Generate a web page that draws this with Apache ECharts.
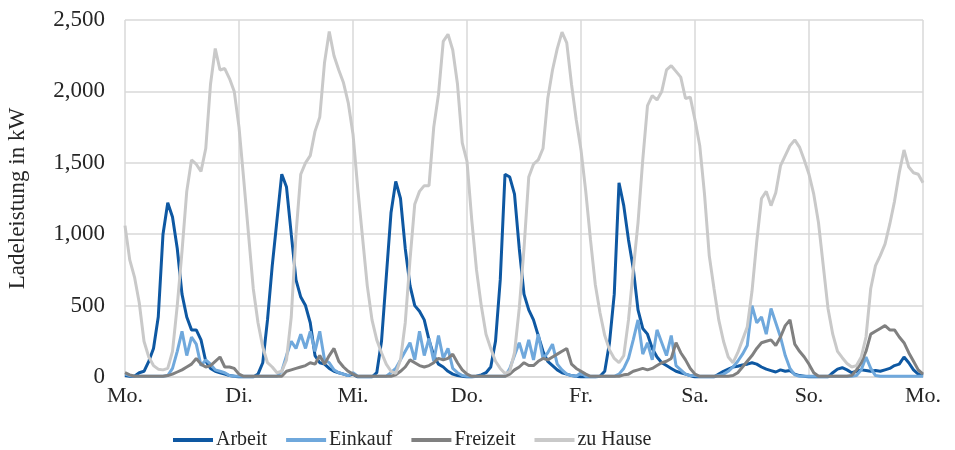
<!DOCTYPE html>
<html>
<head>
<meta charset="utf-8">
<script src="https://cdn.jsdelivr.net/npm/echarts@6/dist/echarts.min.js"></script>
<style>
html,body{margin:0;padding:0;background:#fff;}
#c{width:955px;height:450px;}
</style>
</head>
<body>
<div id="c"></div>
<script>
// Tick labels (one per day boundary, every 24 h)
const dayLabels = ['Mo.', 'Di.', 'Mi.', 'Do.', 'Fr.', 'Sa.', 'So.', 'Mo.'];
const seriesNames = ['Arbeit', 'Einkauf', 'Freizeit', 'zu Hause'];

// Hourly charging power in kW (h = 0 ... 168)
const arbeit = [
  10, 5, 5, 30, 40, 110, 200, 420, 1000, 1220, 1120, 900, 580, 420, 330, 330, 260, 110, 60, 40, 30, 20, 10, 5,
  0, 0, 0, 0, 20, 100, 400, 780, 1100, 1420, 1330, 1000, 680, 560, 500, 380, 150, 100, 90, 60, 40, 30, 20, 10,
  20, 0, 0, 0, 0, 30, 250, 700, 1150, 1370, 1250, 900, 640, 500, 460, 400, 260, 150, 90, 70, 40, 20, 10, 5,
  0, 0, 5, 15, 30, 70, 250, 680, 1420, 1400, 1280, 900, 580, 470, 400, 290, 180, 110, 80, 50, 30, 20, 10, 5,
  0, 0, 0, 0, 5, 40, 240, 580, 1360, 1200, 960, 760, 470, 340, 300, 200, 140, 100, 80, 60, 40, 30, 20, 10,
  0, 0, 0, 0, 0, 20, 40, 55, 70, 75, 85, 90, 100, 90, 70, 55, 45, 35, 50, 40, 45, 20, 10, 5,
  0, 0, 0, 0, 0, 30, 55, 65, 50, 30, 40, 50, 45, 40, 45, 40, 50, 60, 80, 90, 140, 100, 50, 20, 10
];
const einkauf = [
  20, 10, 5, 5, 5, 5, 5, 5, 5, 10, 60, 180, 320, 150, 280, 230, 80, 120, 90, 50, 40, 30, 10, 5,
  5, 5, 5, 5, 5, 5, 5, 5, 5, 40, 150, 250, 200, 300, 200, 320, 180, 320, 120, 100, 50, 30, 20, 10,
  30, 5, 5, 5, 5, 5, 5, 5, 30, 60, 120, 180, 240, 120, 320, 150, 270, 110, 290, 130, 200, 60, 30, 10,
  5, 5, 5, 5, 5, 5, 5, 5, 5, 60, 150, 240, 130, 260, 120, 300, 130, 170, 230, 90, 50, 20, 10, 5,
  30, 5, 5, 5, 5, 5, 5, 5, 20, 60, 130, 260, 400, 160, 240, 120, 330, 240, 150, 290, 80, 50, 20, 10,
  10, 5, 5, 5, 5, 10, 20, 40, 70, 110, 160, 220, 500, 380, 420, 300, 480, 380, 280, 150, 60, 15, 5, 5,
  5, 5, 5, 5, 5, 5, 5, 5, 5, 5, 10, 50, 140, 60, 10, 5, 5, 5, 5, 5, 5, 5, 5, 5, 5
];
const freizeit = [
  30, 15, 5, 5, 5, 5, 5, 5, 5, 10, 20, 35, 50, 70, 90, 130, 90, 70, 80, 110, 140, 70, 70, 60,
  20, 5, 5, 5, 5, 5, 5, 5, 5, 5, 40, 50, 60, 70, 80, 100, 90, 150, 90, 150, 200, 110, 70, 40,
  20, 5, 5, 5, 5, 5, 5, 5, 5, 15, 40, 70, 120, 100, 80, 70, 80, 100, 130, 120, 130, 160, 100, 50,
  20, 5, 5, 5, 5, 5, 5, 5, 5, 20, 50, 70, 100, 80, 80, 110, 130, 120, 140, 160, 180, 200, 90, 60,
  40, 20, 5, 5, 5, 5, 5, 5, 5, 15, 20, 40, 50, 60, 50, 60, 80, 100, 110, 130, 240, 170, 120, 60,
  20, 5, 5, 5, 5, 5, 5, 5, 10, 30, 70, 110, 150, 200, 240, 250, 260, 220, 280, 360, 400, 230, 180, 140,
  90, 30, 5, 5, 5, 5, 5, 5, 5, 10, 50, 100, 180, 300, 320, 340, 360, 330, 330, 280, 240, 170, 110, 50, 20
];
const zuHause = [
  1060, 820, 700, 520, 250, 140, 80, 55, 50, 60, 180, 500, 880, 1300, 1520, 1490, 1440, 1600, 2050, 2300, 2150, 2160, 2090, 2000,
  1750, 1380, 1000, 620, 380, 210, 100, 70, 30, 40, 120, 420, 1000, 1420, 1500, 1550, 1720, 1820, 2200, 2420, 2250, 2150, 2060, 1920,
  1700, 1320, 980, 640, 400, 260, 170, 90, 40, 25, 120, 380, 820, 1210, 1300, 1340, 1340, 1750, 1980, 2350, 2400, 2290, 2050, 1640,
  1510, 1100, 750, 500, 300, 200, 110, 60, 25, 40, 170, 480, 900, 1400, 1490, 1520, 1600, 1950, 2150, 2300, 2415, 2340, 2050, 1800,
  1590, 1300, 960, 650, 450, 290, 190, 130, 100, 150, 400, 750, 1080, 1520, 1900, 1970, 1940, 2000, 2150, 2180, 2140, 2100, 1950, 1960,
  1800, 1620, 1280, 850, 620, 400, 250, 140, 100, 170, 260, 350, 600, 950, 1250, 1300, 1200, 1290, 1480, 1550, 1620, 1660, 1610, 1520,
  1420, 1280, 1080, 780, 480, 300, 180, 135, 95, 70, 80, 140, 280, 620, 780, 850, 930, 1070, 1230, 1430, 1590, 1470, 1430, 1420, 1360
];

const colors = ['#0E58A2', '#6FA8DC', '#808080', '#C9C9C9'];
const allData = [arbeit, einkauf, freizeit, zuHause];
const font = '"Liberation Serif", "Times New Roman", serif';

const chart = echarts.init(document.getElementById('c'), null, {renderer: 'canvas'});
chart.setOption({
  animation: false,
  backgroundColor: '#ffffff',
  textStyle: {fontFamily: font, color: '#262626'},
  grid: {left: 125, right: 32, top: 20, bottom: 73, containLabel: false, outerBoundsMode: 'none'},
  legend: {
    top: 425,
    left: 168,
    itemWidth: 40,
    itemHeight: 4,
    itemGap: 19,
    icon: 'rect',
    textStyle: {fontFamily: font, fontSize: 20, color: '#262626', padding: [0, 0, 0, -2]},
    data: seriesNames
  },
  xAxis: {
    type: 'value',
    min: 0,
    max: 168,
    interval: 24,
    axisLine: {show: true, lineStyle: {color: '#D9D9D9', width: 1.5}},
    axisTick: {show: false},
    splitLine: {show: true, lineStyle: {color: '#D9D9D9', width: 1.5}},
    axisLabel: {
      fontFamily: font, fontSize: 22, color: '#262626', margin: 8,
      formatter: v => dayLabels[Math.round(v / 24)] || ''
    }
  },
  yAxis: {
    type: 'value',
    min: 0,
    max: 2500,
    interval: 500,
    name: 'Ladeleistung in kW',
    nameLocation: 'middle',
    nameGap: 96,
    nameTextStyle: {fontFamily: font, fontSize: 23, color: '#262626'},
    axisLine: {show: false},
    axisTick: {show: false},
    splitLine: {show: true, lineStyle: {color: '#D9D9D9', width: 1.5}},
    axisLabel: {
      fontFamily: font, fontSize: 23, color: '#262626', margin: 20,
      formatter: v => v.toLocaleString('en-US')
    }
  },
  series: seriesNames.map((name, k) => ({
    name: name,
    type: 'line',
    data: allData[k].map((v, i) => [i, v]),
    showSymbol: false,
    symbol: 'none',
    smooth: false,
    color: colors[k],
    lineStyle: {color: colors[k], width: 3},
    z: 2 + k
  }))
});
</script>
</body>
</html>
